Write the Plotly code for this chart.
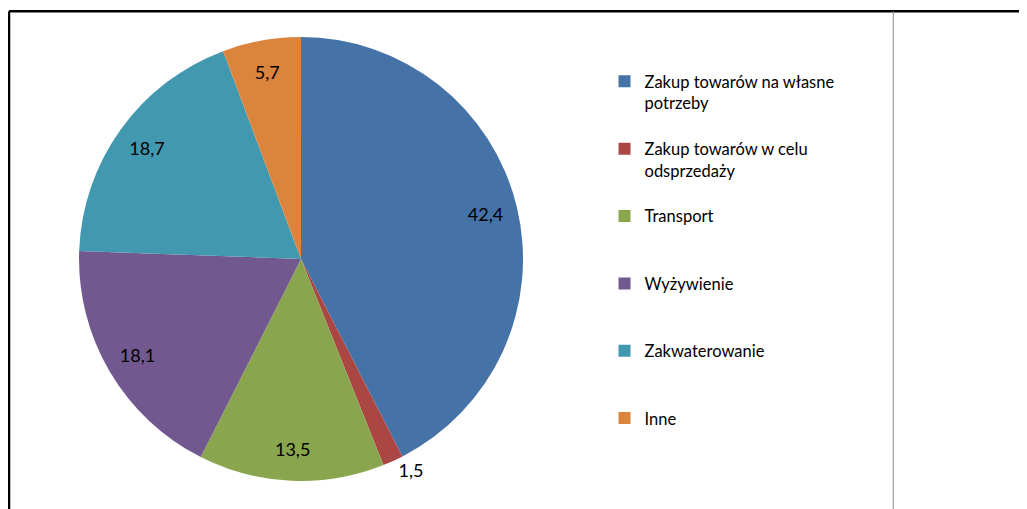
import plotly.graph_objects as go

categories = [
    "Zakup towarów na własne<br>potrzeby",
    "Zakup towarów w celu<br>odsprzedaży",
    "Transport",
    "Wyżywienie",
    "Zakwaterowanie",
    "Inne",
]
values = [42.4, 1.5, 13.5, 18.1, 18.7, 5.7]
colors = ["#4572A7", "#AA4643", "#89A54E", "#71588F", "#4198AF", "#DB843D"]
text_pos = ["inside", "outside", "inside", "inside", "inside", "inside"]

FONT = "Lato"
W, H = 1019, 501  # strona ma 8px marginesu body
PIE_DOMAIN = dict(x=[0.0697, 0.5054], y=[0.0559, 0.9421])


def pad_label(label, lines=3):
    # w legendzie Excela wpisy sa rozlozone rowno - dopelniamy pustymi liniami
    n = label.count("<br>") + 1
    return label + "<br> " * (lines - n)


fig = go.Figure()

# wlasciwy wykres kolowy (bez etykiet)
fig.add_trace(
    go.Pie(
        labels=[pad_label(c) for c in categories],
        values=values,
        sort=False,
        direction="clockwise",
        rotation=0,
        marker=dict(colors=colors, line=dict(width=0)),
        textinfo="none",
        domain=PIE_DOMAIN,
        hoverinfo="label+value",
    )
)

# przezroczysty pierscien tylko po to, by etykiety staly blizej krawedzi jak w Excelu
fig.add_trace(
    go.Pie(
        labels=[pad_label(c) for c in categories],
        values=values,
        sort=False,
        direction="clockwise",
        rotation=0,
        hole=0.71,
        marker=dict(colors=["rgba(0,0,0,0)"] * len(values), line=dict(width=0)),
        texttemplate="%{value:.1f}",
        textposition=text_pos,
        insidetextorientation="horizontal",
        textfont=dict(family=FONT, size=18, color="#000000"),
        domain=PIE_DOMAIN,
        showlegend=False,
        hoverinfo="skip",
    )
)

# ramka wykresu jak w arkuszu
fig.add_shape(type="line", xref="paper", yref="paper", x0=0.001, x1=1, y0=0.9936, y1=0.9936,
              line=dict(color="#000000", width=2.5))
fig.add_shape(type="line", xref="paper", yref="paper", x0=0.001, x1=0.001, y0=0, y1=0.9936,
              line=dict(color="#000000", width=2.5))
fig.add_shape(type="line", xref="paper", yref="paper", x0=0.8688, x1=0.8688, y0=0, y1=0.9936,
              line=dict(color="#8c8c8c", width=1))

fig.update_layout(
    width=W,
    height=H,
    separators=", ",
    margin=dict(l=0, r=0, t=0, b=0),
    paper_bgcolor="#ffffff",
    plot_bgcolor="#ffffff",
    font=dict(family=FONT, size=17, color="#000000"),
    legend=dict(
        x=0.5854,
        y=0.888,
        xanchor="left",
        yanchor="top",
        valign="top",
        font=dict(family=FONT, size=16.5, color="#000000"),
        bgcolor="rgba(0,0,0,0)",
    ),
)

fig.write_html("out.html")
